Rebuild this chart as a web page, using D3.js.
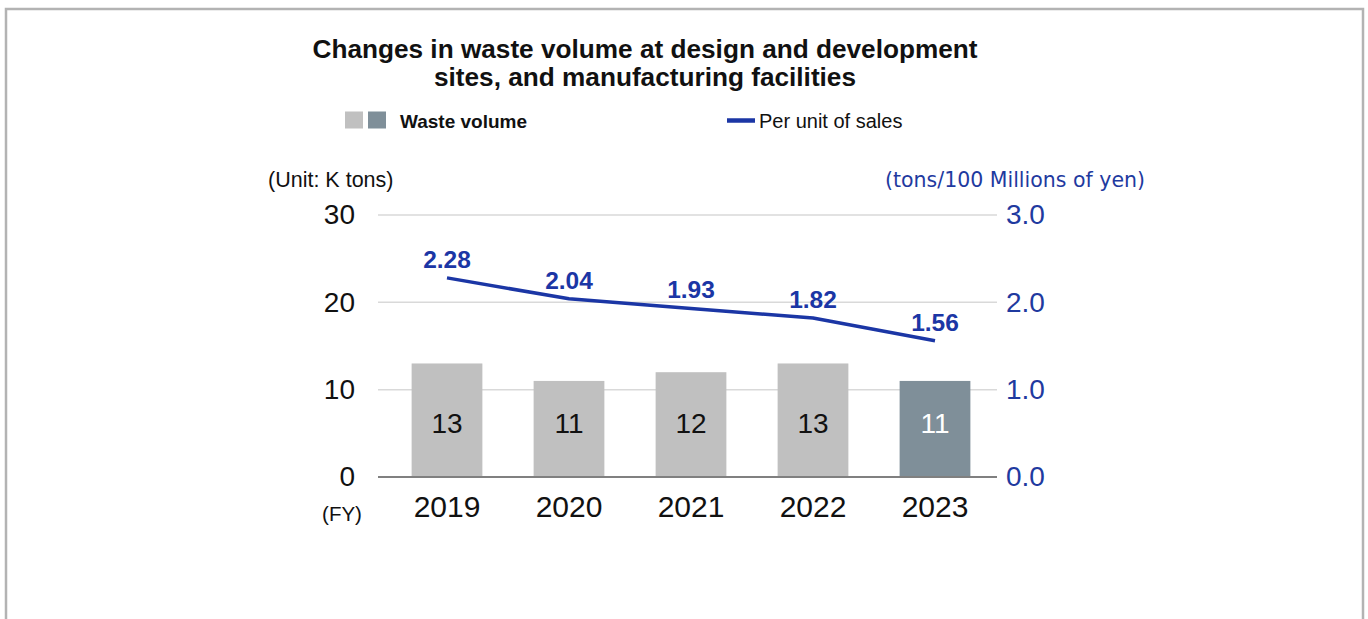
<!DOCTYPE html>
<html>
<head>
<meta charset="utf-8">
<script src="https://cdn.jsdelivr.net/npm/d3@7"></script>
<style>
  html, body { margin: 0; padding: 0; background: #fff; }
  svg { display: block; font-family: "Liberation Sans", Arial, sans-serif; }
</style>
</head>
<body>
<svg id="chart" width="1368" height="619"></svg>
<script>
// Fiscal years shown on the x axis
const years = ["2019", "2020", "2021", "2022", "2023"];
// Waste volume (K tons)
const wasteVolume = [13, 11, 12, 13, 11];
// Waste per unit of sales (tons / 100 million yen)
const perUnitSales = [2.28, 2.04, 1.93, 1.82, 1.56];
// Axis ticks
const leftTicks = [0, 10, 20, 30];
const rightTicks = [0, 1, 2, 3];
// Latest year is highlighted with the darker bar colour
const highlightYear = "2023";

const svg = d3.select("#chart");

const colors = {
  bar: "#c0c0c0",
  barHighlight: "#7f8f99",
  line: "#1b36a5",
  axisBlue: "#1f3a9f",
  grid: "#d9d9d9",
  baseline: "#808080",
  frame: "#b3b3b3"
};

// Frame around the panel (open at the bottom)
svg.append("path")
  .attr("d", "M6,619 V9 H1363 V619")
  .attr("fill", "none")
  .attr("stroke", colors.frame)
  .attr("stroke-width", 2.5);

// Scales
const x = d3.scaleBand().domain(years).range([386, 996]).paddingInner(0.42).paddingOuter(0.21);
const yLeft = d3.scaleLinear().domain([0, 30]).range([477, 215]);
const yRight = d3.scaleLinear().domain([0, 3]).range([477, 215]);
const plotLeft = 378, plotRight = 997;

// Title
const title = svg.append("text")
  .attr("text-anchor", "middle")
  .attr("font-weight", "bold")
  .attr("font-size", 26.2)
  .attr("fill", "#111");
title.append("tspan").attr("x", 645).attr("y", 58).text("Changes in waste volume at design and development");
title.append("tspan").attr("x", 645).attr("y", 86).text("sites, and manufacturing facilities");

// Legend: waste volume
svg.append("rect").attr("x", 345).attr("y", 111.5).attr("width", 18).attr("height", 17).attr("fill", colors.bar);
svg.append("rect").attr("x", 368).attr("y", 111.5).attr("width", 18).attr("height", 17).attr("fill", colors.barHighlight);
svg.append("text").attr("x", 400).attr("y", 127.5)
  .attr("font-weight", "bold").attr("font-size", 19).attr("fill", "#111")
  .text("Waste volume");

// Legend: per unit of sales
svg.append("line").attr("x1", 727).attr("x2", 755).attr("y1", 120.5).attr("y2", 120.5)
  .attr("stroke", colors.line).attr("stroke-width", 4.5);
svg.append("text").attr("x", 759).attr("y", 127.5)
  .attr("font-size", 20).attr("fill", "#111")
  .text("Per unit of sales");

// Axis unit labels
svg.append("text").attr("x", 268).attr("y", 187)
  .attr("font-size", 21.5).attr("fill", "#111")
  .text("(Unit: K tons)");
svg.append("text").attr("x", 1145).attr("y", 187)
  .attr("text-anchor", "end")
  .style("font-family", "'DejaVu Sans', Verdana, sans-serif")
  .attr("font-size", 20.5).attr("fill", colors.axisBlue)
  .text("(tons/100 Millions of yen)");

// Gridlines
svg.append("g").selectAll("line")
  .data(leftTicks.filter(d => d > 0))
  .join("line")
  .attr("x1", plotLeft).attr("x2", plotRight)
  .attr("y1", d => yLeft(d)).attr("y2", d => yLeft(d))
  .attr("stroke", colors.grid).attr("stroke-width", 1.5);

// Left axis
const leftAxis = svg.append("g")
  .attr("transform", `translate(${plotLeft},0)`)
  .call(d3.axisLeft(yLeft).tickValues(leftTicks).tickSize(0).tickPadding(23).tickFormat(d3.format("d")));
leftAxis.select(".domain").remove();
leftAxis.selectAll("text")
  .attr("font-family", "'Liberation Sans', Arial, sans-serif")
  .attr("font-size", 28).attr("fill", "#111");

// Right axis
const rightAxis = svg.append("g")
  .attr("transform", `translate(${plotRight},0)`)
  .call(d3.axisRight(yRight).tickValues(rightTicks).tickSize(0).tickPadding(9).tickFormat(d3.format(".1f")));
rightAxis.select(".domain").remove();
rightAxis.selectAll("text")
  .attr("font-family", "'Liberation Sans', Arial, sans-serif")
  .attr("font-size", 28).attr("fill", colors.axisBlue);

// Bars
const bars = years.map((yr, i) => ({ year: yr, value: wasteVolume[i] }));
svg.append("g").selectAll("rect")
  .data(bars)
  .join("rect")
  .attr("x", d => x(d.year))
  .attr("width", x.bandwidth())
  .attr("y", d => yLeft(d.value))
  .attr("height", d => yLeft(0) - yLeft(d.value))
  .attr("fill", d => d.year === highlightYear ? colors.barHighlight : colors.bar);

// Bar value labels
svg.append("g").selectAll("text")
  .data(bars)
  .join("text")
  .attr("x", d => x(d.year) + x.bandwidth() / 2)
  .attr("y", yLeft(0) - 44)
  .attr("text-anchor", "middle")
  .attr("font-size", 28)
  .attr("fill", d => d.year === highlightYear ? "#fff" : "#111")
  .text(d => d3.format("d")(d.value));

// Baseline
svg.append("line")
  .attr("x1", plotLeft).attr("x2", plotRight)
  .attr("y1", yLeft(0)).attr("y2", yLeft(0))
  .attr("stroke", colors.baseline).attr("stroke-width", 2);

// Bottom axis: year labels
const bottomAxis = svg.append("g")
  .attr("transform", `translate(0,${yLeft(0)})`)
  .call(d3.axisBottom(x).tickSize(0).tickPadding(19));
bottomAxis.select(".domain").remove();
bottomAxis.selectAll("text")
  .attr("font-family", "'Liberation Sans', Arial, sans-serif")
  .attr("font-size", 30).attr("fill", "#111");

svg.append("text").attr("x", 342).attr("y", 521)
  .attr("text-anchor", "middle")
  .attr("font-size", 20.5).attr("fill", "#111")
  .text("(FY)");

// Per-unit-of-sales line
const points = years.map((yr, i) => ({ year: yr, value: perUnitSales[i] }));
const line = d3.line()
  .x(d => x(d.year) + x.bandwidth() / 2)
  .y(d => yRight(d.value));
svg.append("path")
  .datum(points)
  .attr("d", line)
  .attr("fill", "none")
  .attr("stroke", colors.line)
  .attr("stroke-width", 3.5)
  .attr("stroke-linejoin", "round");

// Line value labels
svg.append("g").selectAll("text")
  .data(points)
  .join("text")
  .attr("x", d => x(d.year) + x.bandwidth() / 2)
  .attr("y", d => yRight(d.value) - 10)
  .attr("text-anchor", "middle")
  .attr("font-weight", "bold")
  .attr("font-size", 24.5)
  .attr("fill", colors.line)
  .text(d => d3.format(".2f")(d.value));
</script>
</body>
</html>
